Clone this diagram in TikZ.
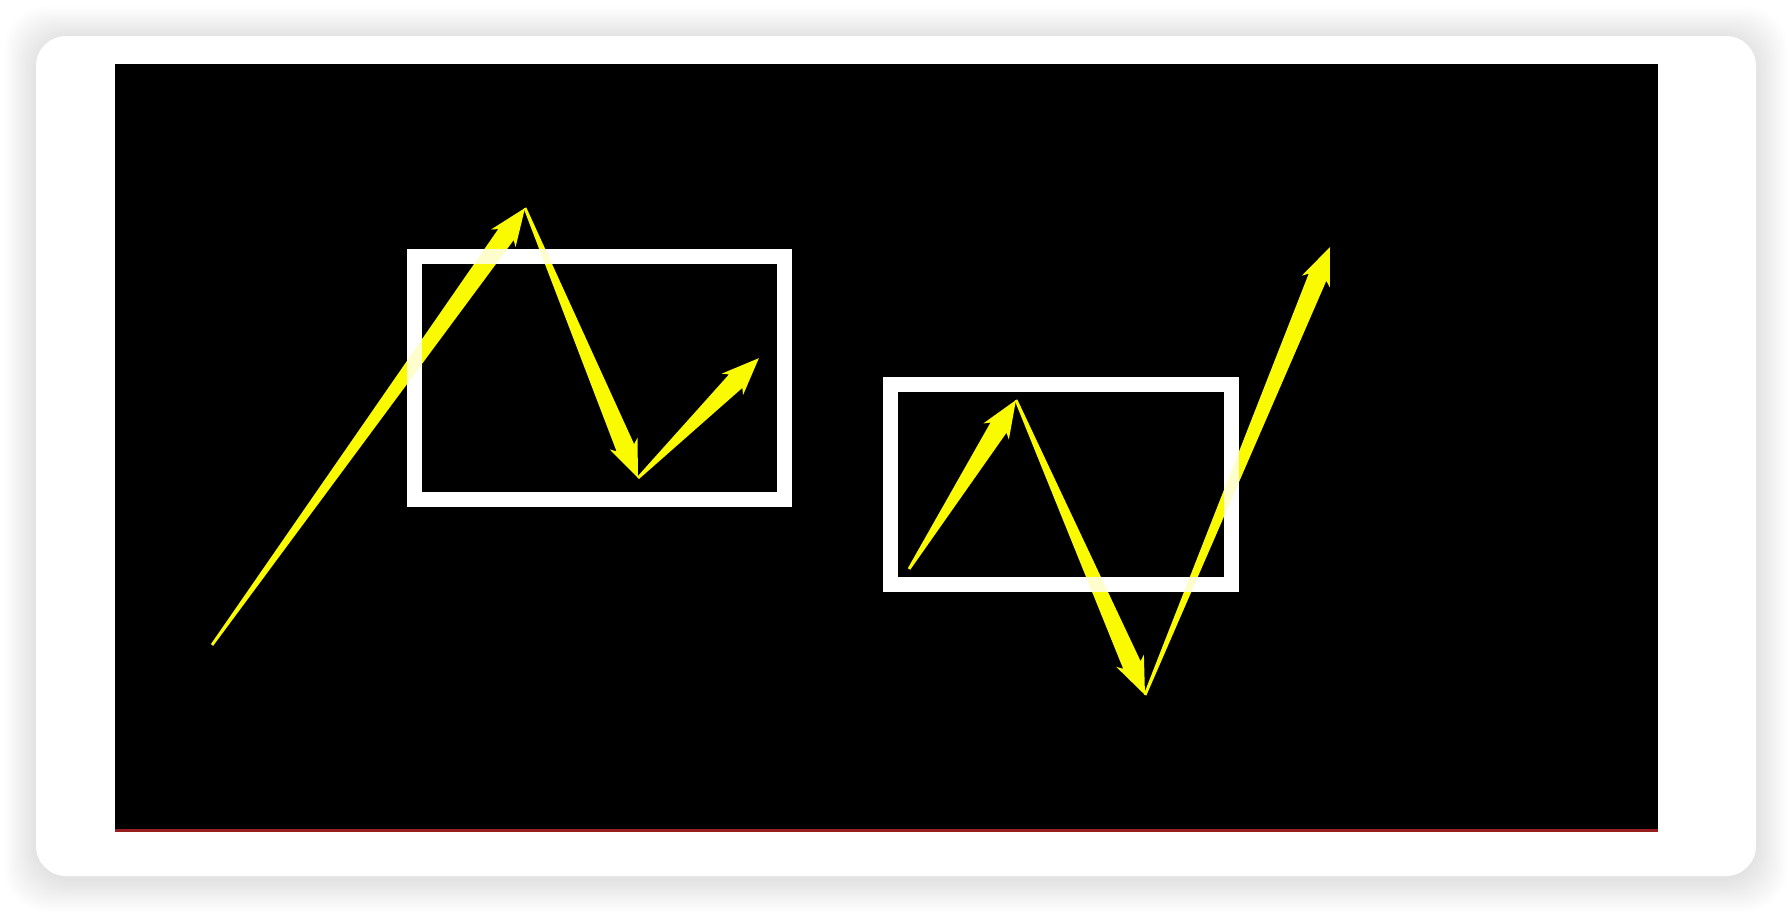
\documentclass[tikz,border=0pt]{standalone}
\usetikzlibrary{calc}
\definecolor{arrowyellow}{RGB}{250,250,0}
\definecolor{edgered}{RGB}{150,30,30}
\tikzset{
  card/.style   = {fill=white, rounded corners=0.3cm},
  halo/.style   = {fill=black, opacity=0.007, rounded corners=0.4cm},
  screen/.style = {fill=black},
  frame/.style  = {draw=white, line width=0.15cm},
  swing/.style  = {fill=arrowyellow},
}
% tapered arrow from #1 to #2 (sizes in pt, 1px = 0.2845pt)
\newcommand{\swingarrow}[2]{%
  \pgfpointdiff{\pgfpointanchor{#1}{center}}{\pgfpointanchor{#2}{center}}%
  \pgfgetlastxy{\dx}{\dy}%
  \pgfmathsetmacro{\ang}{atan2(\dy,\dx)}%
  \pgfmathsetmacro{\len}{veclen(\dx,\dy)}%
  \begin{scope}[shift={(#1)}, rotate=\ang]
    \fill[swing] (0pt,0.4pt) -- (\len pt-9.3pt,2.7pt) -- (\len pt-10.6pt,4.3pt)
      -- (\len pt,0pt) -- (\len pt-10.6pt,-4.3pt) -- (\len pt-9.3pt,-2.7pt)
      -- (0pt,-0.4pt) -- cycle;
  \end{scope}
}

\begin{document}
\begin{tikzpicture}[x=0.01cm, y=0.01cm]
  \useasboundingbox (0,0) rectangle (1792,-912);
  \fill[white] (0,0) rectangle (1792,-912);
  \foreach \s in {1,...,14}
    \fill[halo] (36-\s*2.2, -38+\s*2.2) rectangle (1756+\s*2.2, -880-\s*2.2);
  \fill[card] (36,-36) rectangle (1756,-876);
  \fill[screen] (115,-64) rectangle (1658,-832);
  \fill[edgered] (115,-829) rectangle (1658,-832);

  % first swing
  \coordinate (p0) at (212,-645);
  \coordinate (p1) at (525,-208);
  \coordinate (p2) at (638,-478);
  \coordinate (p3) at (759,-358);
  % second swing
  \coordinate (q0) at (909,-569);
  \coordinate (q1) at (1016,-400);
  \coordinate (q2) at (1145,-695);
  \coordinate (q3) at (1330,-247);

  \draw[frame] (414.5,-256.5) rectangle (784.5,-499.5);
  \draw[frame] (890.5,-384.5) rectangle (1231.5,-584.5);

  \swingarrow{p0}{p1}
  \swingarrow{p1}{p2}
  \swingarrow{p2}{p3}
  \swingarrow{q0}{q1}
  \swingarrow{q1}{q2}
  \swingarrow{q2}{q3}

  \draw[frame, opacity=0.8] (414.5,-256.5) rectangle (784.5,-499.5);
  \draw[frame, opacity=0.8] (890.5,-384.5) rectangle (1231.5,-584.5);
\end{tikzpicture}
\end{document}
